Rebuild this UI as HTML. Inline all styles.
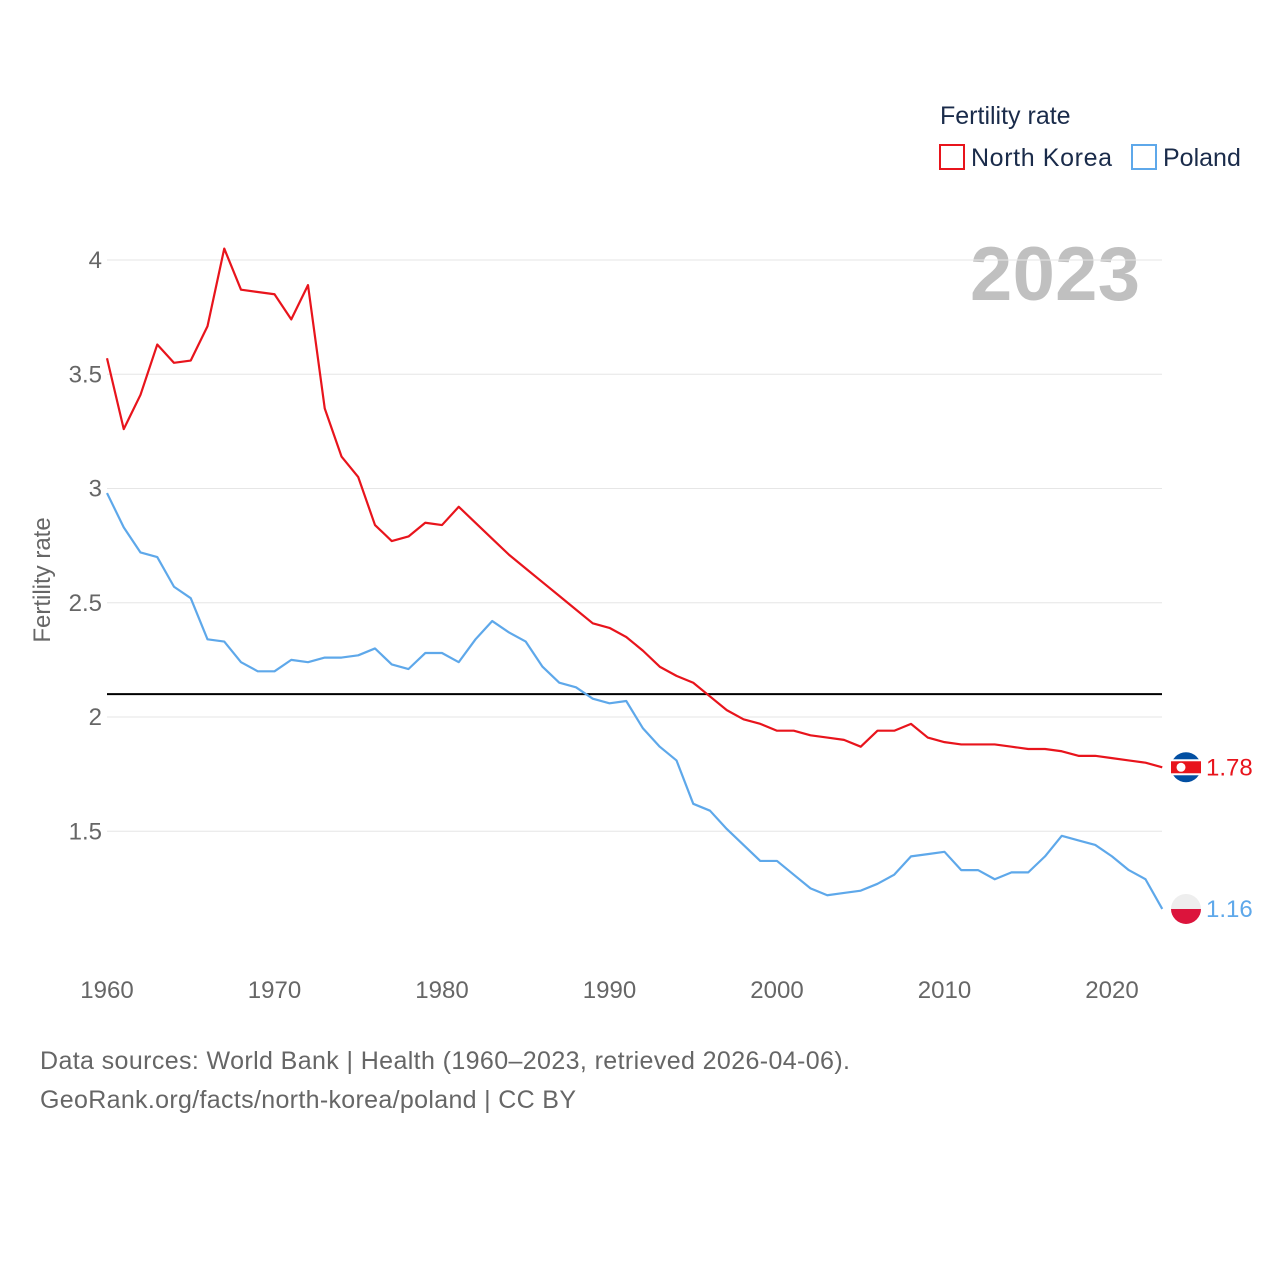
<!DOCTYPE html>
<html><head><meta charset="utf-8"><style>
body{margin:0;background:#fff;font-family:"Liberation Sans",sans-serif}
</style></head><body>
<svg id="c" width="1280" height="1280" xmlns="http://www.w3.org/2000/svg">
<text x="940" y="124" font-size="25" fill="#1a2b4a">Fertility rate</text>
<g><rect x="940" y="145" width="24" height="24" fill="none" stroke="#e8141c" stroke-width="2"/><text x="971" y="166" font-size="25" fill="#1a2b4a" textLength="141">North Korea</text></g>
<g><rect x="1132" y="145" width="24" height="24" fill="none" stroke="#5ea8ea" stroke-width="2"/><text x="1163" y="166" font-size="25" fill="#1a2b4a">Poland</text></g>
<text x="1140" y="300" font-size="76" font-weight="bold" fill="#c0c0c0" text-anchor="end" textLength="170">2023</text>
<text transform="translate(50,580) rotate(-90)" font-size="24" fill="#666" text-anchor="middle">Fertility rate</text>
<g id="grid"></g><g id="series"></g>
<text x="40" y="1069" font-size="25" fill="#666" textLength="810">Data sources: World Bank | Health (1960–2023, retrieved 2026-04-06).</text>
<text x="40" y="1108" font-size="25" fill="#666" textLength="536">GeoRank.org/facts/north-korea/poland | CC BY</text>
</svg>
<script>
const years=[];for(let y=1960;y<=2023;y++)years.push(y);
const northKorea=[3.57,3.26,3.41,3.63,3.55,3.56,3.71,4.05,3.87,3.86,3.85,3.74,3.89,3.35,3.14,3.05,2.84,2.77,2.79,2.85,2.84,2.92,2.85,2.78,2.71,2.65,2.59,2.53,2.47,2.41,2.39,2.35,2.29,2.22,2.18,2.15,2.09,2.03,1.99,1.97,1.94,1.94,1.92,1.91,1.90,1.87,1.94,1.94,1.97,1.91,1.89,1.88,1.88,1.88,1.87,1.86,1.86,1.85,1.83,1.83,1.82,1.81,1.80,1.78];
const poland=[2.98,2.83,2.72,2.70,2.57,2.52,2.34,2.33,2.24,2.20,2.20,2.25,2.24,2.26,2.26,2.27,2.30,2.23,2.21,2.28,2.28,2.24,2.34,2.42,2.37,2.33,2.22,2.15,2.13,2.08,2.06,2.07,1.95,1.87,1.81,1.62,1.59,1.51,1.44,1.37,1.37,1.31,1.25,1.22,1.23,1.24,1.27,1.31,1.39,1.40,1.41,1.33,1.33,1.29,1.32,1.32,1.39,1.48,1.46,1.44,1.39,1.33,1.29,1.16];
const yTicks=[1.5,2,2.5,3,3.5,4];
const xTicks=[1960,1970,1980,1990,2000,2010,2020];
const refLine=2.1;
const X=y=>107+(y-1960)*16.75, Y=v=>717-(v-2)*228.5;
const NS="http://www.w3.org/2000/svg";
const g=document.getElementById('grid'), s=document.getElementById('series');
function mk(tag,at,p){const e=document.createElementNS(NS,tag);for(const k in at)e.setAttribute(k,at[k]);p.appendChild(e);return e;}
yTicks.forEach(t=>{
 const l=mk('line',{x1:107,x2:1162,y1:Y(t),y2:Y(t),stroke:'#e6e6e6','stroke-width':1},g);
 
 
 const tx=mk('text',{x:102,y:Y(t)+8,'font-size':24,fill:'#666','text-anchor':'end'},g);tx.textContent=String(t);
 
 
});
xTicks.forEach(t=>{
 const tx=mk('text',{x:X(t),y:998,'font-size':24,fill:'#666','text-anchor':'middle'},g);tx.textContent=String(t);
 
 
});
const rl=mk('line',{x1:107,x2:1162,y1:Y(refLine),y2:Y(refLine),stroke:'#000','stroke-width':2},g);


function series(vals,col,name){
 const p=mk('path',{d:vals.map((v,i)=>(i?'L':'M')+X(years[i])+','+Y(v)).join(''),fill:'none',stroke:col,'stroke-width':2.2,'stroke-linejoin':'round'},s);
 
 
 const last=vals[vals.length-1], ly=Y(last);
 const c=mk('circle',{cx:1186,cy:ly,r:15,fill:name==='north-korea'?'#024fa2':'#eee'},s);
 
 
 if(name==='north-korea'){mk('rect',{x:1171,y:ly-8,width:30,height:16,fill:'#fff'},s);mk('rect',{x:1171,y:ly-6,width:30,height:12,fill:'#e8141c'},s);mk('circle',{cx:1181,cy:ly,r:4.5,fill:'#fff'},s);}
 else mk('path',{d:`M1171,${ly}A15,15 0 0 0 1201,${ly}Z`,fill:'#dc143c'},s);
 const t=mk('text',{x:1206,y:ly+8,'font-size':24,fill:col},s);t.textContent=last.toFixed(2);
 
 
}
series(northKorea,'#e8141c','north-korea');
series(poland,'#5ea8ea','poland');
</script>
</body></html>
